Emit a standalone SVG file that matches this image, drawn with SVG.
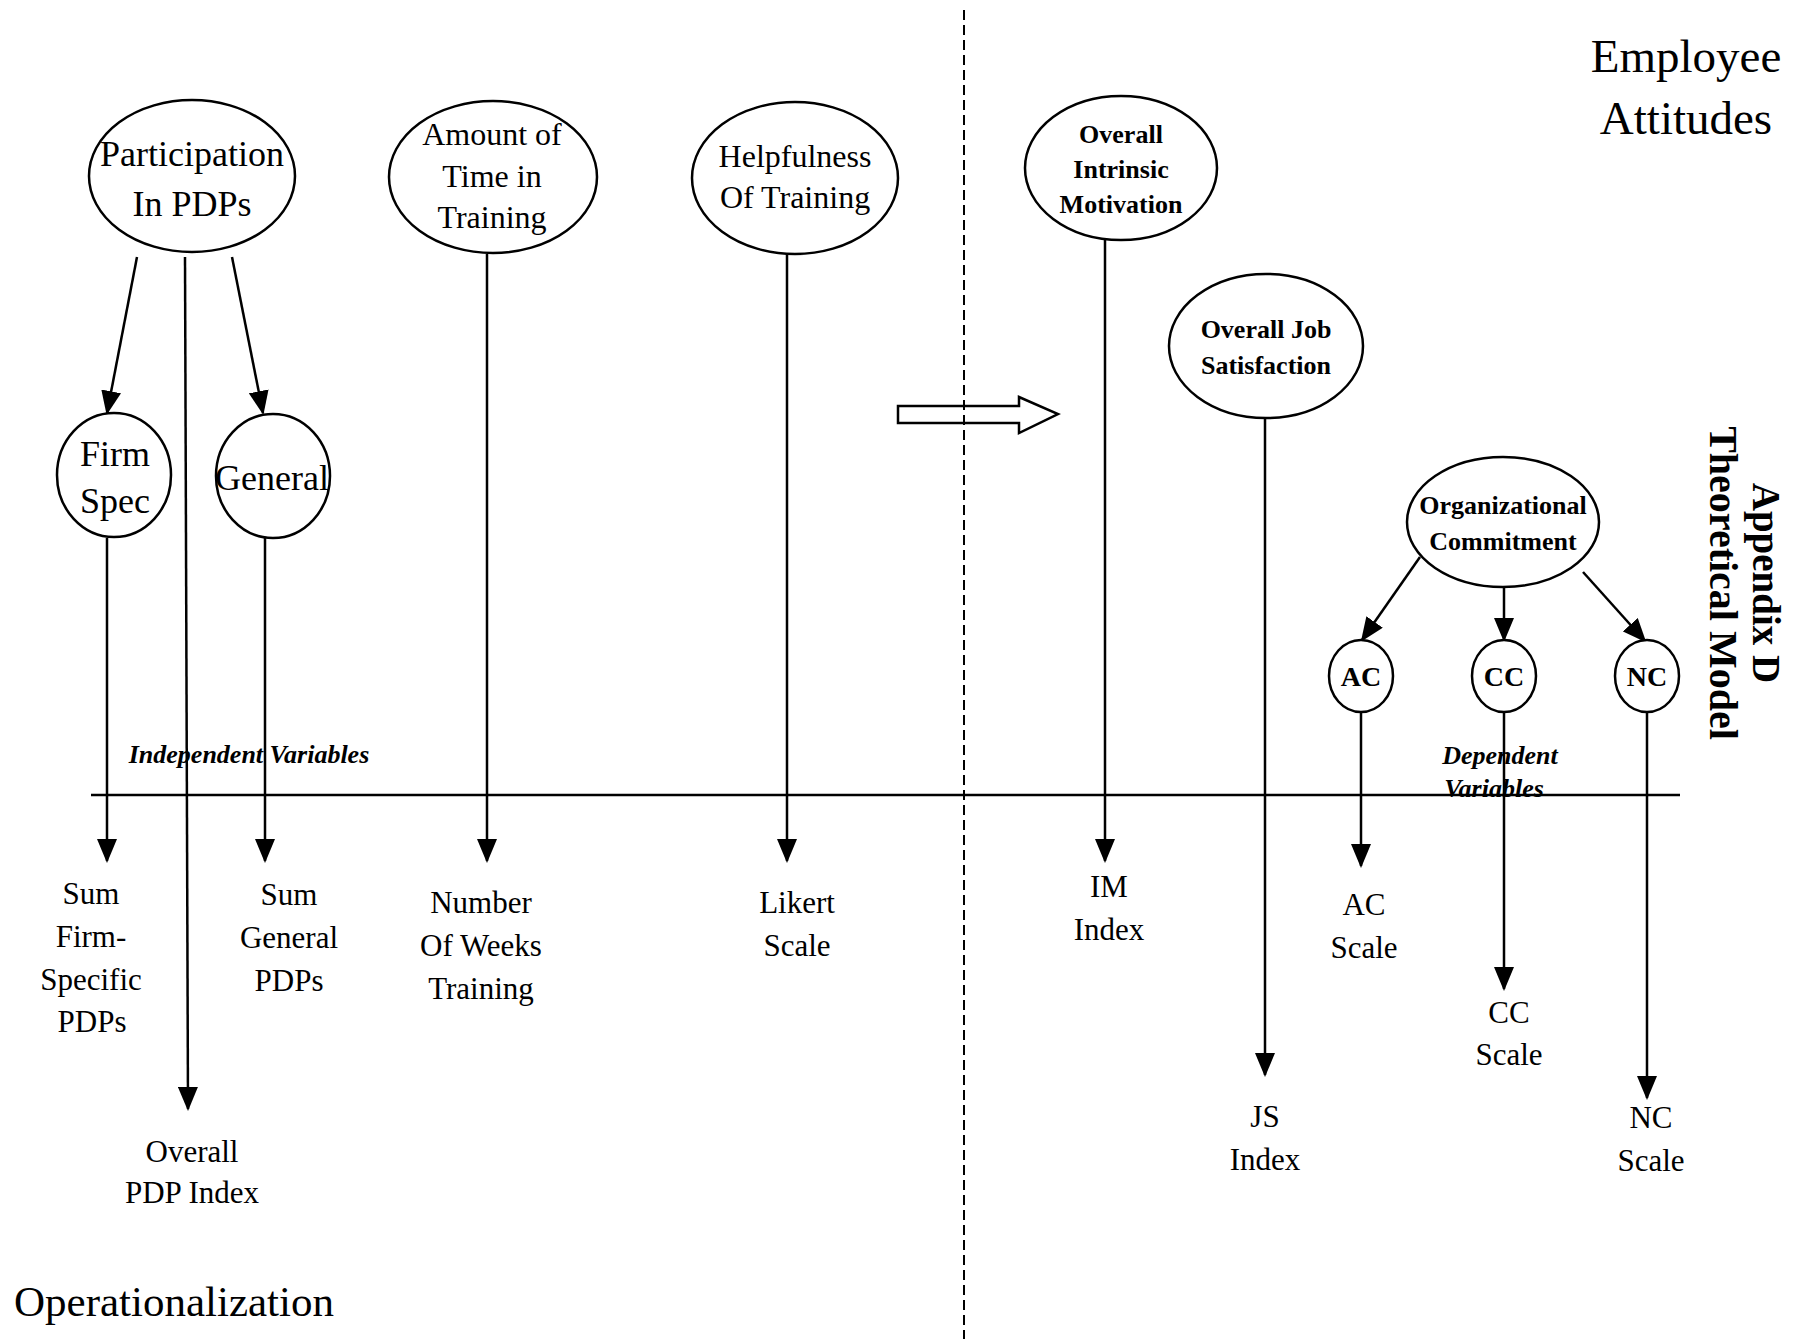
<svg xmlns="http://www.w3.org/2000/svg" width="1793" height="1339" viewBox="0 0 1793 1339">
<defs>
<style>
text{font-family:"Liberation Serif","Times New Roman",serif;fill:#000;text-anchor:middle}
.n{fill:#fff;stroke:#000;stroke-width:2.5}
.c line{stroke:#000;stroke-width:2.5;marker-end:url(#ah)}
.l36{font-size:36px}
.l32{font-size:32px}
.b26{font-size:26px;font-weight:bold}
.b28{font-size:28px;font-weight:bold}
.op{font-size:31px}
.bi{font-size:26px;font-weight:bold;font-style:italic}
</style>
<marker id="ah" markerUnits="userSpaceOnUse" markerWidth="24" markerHeight="20" viewBox="0 0 24 20" refX="22" refY="10" orient="auto">
<path d="M0,0 L24,10 L0,20 z" fill="#000"/>
</marker>
</defs>
<rect width="1793" height="1339" fill="#fff"/>

<g id="frame">
<line x1="91" y1="795" x2="1680" y2="795" stroke="#000" stroke-width="2.5"/>
</g>

<g id="shift-arrow">
<polygon points="898,406 1019,406 1019,397 1058,414 1019,433 1019,423 898,423" fill="#fff" stroke="#000" stroke-width="2.5"/>
</g>

<g id="divider">
<line x1="964" y1="10" x2="964" y2="1339" stroke="#000" stroke-width="2" stroke-dasharray="10 5"/>
</g>

<g id="labels">
<text x="1686" y="72" style="font-size:47px">Employee</text>
<text x="1686" y="134" style="font-size:47px">Attitudes</text>
<text x="14" y="1316" style="font-size:43px;text-anchor:start">Operationalization</text>
<text class="bi" x="249" y="763">Independent Variables</text>
<text class="bi" x="1500" y="764">Dependent</text>
<text class="bi" x="1494" y="797">Variables</text>
<text transform="translate(1753,583) rotate(90)" style="font-size:39px;font-weight:bold">Appendix D</text>
<text transform="translate(1710,583) rotate(90)" style="font-size:40px;font-weight:bold">Theoretical Model</text>
</g>

<g id="connectors" class="c">
<line x1="137" y1="257" x2="107" y2="413"/>
<line x1="185" y1="257" x2="188" y2="1109"/>
<line x1="232" y1="257" x2="263" y2="413"/>
<line x1="107" y1="538" x2="107" y2="861"/>
<line x1="265" y1="538" x2="265" y2="861"/>
<line x1="487" y1="254" x2="487" y2="861"/>
<line x1="787" y1="254" x2="787" y2="861"/>
<line x1="1105" y1="240" x2="1105" y2="861"/>
<line x1="1265" y1="417" x2="1265" y2="1075"/>
<line x1="1420" y1="557" x2="1362" y2="640"/>
<line x1="1504" y1="587" x2="1504" y2="640"/>
<line x1="1583" y1="572" x2="1645" y2="641"/>
<line x1="1361" y1="712" x2="1361" y2="866"/>
<line x1="1504" y1="712" x2="1504" y2="989"/>
<line x1="1647" y1="712" x2="1647" y2="1098"/>
</g>

<g id="participation">
<ellipse class="n" cx="192" cy="176" rx="103" ry="76"/>
<text class="l36" x="192" y="166">Participation</text>
<text class="l36" x="192" y="216">In PDPs</text>
</g>
<g id="firm-spec">
<ellipse class="n" cx="114" cy="475" rx="57" ry="62"/>
<text class="l36" x="115" y="466">Firm</text>
<text class="l36" x="115" y="513">Spec</text>
</g>
<g id="general">
<ellipse class="n" cx="273" cy="476" rx="57" ry="62"/>
<text class="l36" x="272" y="490">General</text>
</g>
<g id="amount">
<ellipse class="n" cx="493" cy="177" rx="104" ry="76"/>
<text class="l32" x="492" y="145">Amount of</text>
<text class="l32" x="492" y="187">Time in</text>
<text class="l32" x="492" y="228">Training</text>
</g>
<g id="helpfulness">
<ellipse class="n" cx="795" cy="178" rx="103" ry="76"/>
<text class="l32" x="795" y="167">Helpfulness</text>
<text class="l32" x="795" y="208">Of Training</text>
</g>
<g id="intrinsic">
<ellipse class="n" cx="1121" cy="168" rx="96" ry="72"/>
<text class="b26" x="1121" y="143">Overall</text>
<text class="b26" x="1121" y="178">Intrinsic</text>
<text class="b26" x="1121" y="213">Motivation</text>
</g>
<g id="job-satisfaction">
<ellipse class="n" cx="1266" cy="346" rx="97" ry="72"/>
<text class="b26" x="1266" y="338">Overall Job</text>
<text class="b26" x="1266" y="374">Satisfaction</text>
</g>
<g id="org-commitment">
<ellipse class="n" cx="1503" cy="522" rx="96" ry="65"/>
<text class="b26" x="1503" y="514">Organizational</text>
<text class="b26" x="1503" y="550">Commitment</text>
</g>
<g id="ac">
<ellipse class="n" cx="1361" cy="676" rx="32" ry="36"/>
<text class="b28" x="1361" y="686">AC</text>
</g>
<g id="cc">
<ellipse class="n" cx="1504" cy="676" rx="32" ry="36"/>
<text class="b28" x="1504" y="686">CC</text>
</g>
<g id="nc">
<ellipse class="n" cx="1647" cy="676" rx="32" ry="36"/>
<text class="b28" x="1647" y="686">NC</text>
</g>

<g id="sum-firm">
<text class="op" x="91" y="904">Sum</text>
<text class="op" x="91" y="947">Firm-</text>
<text class="op" x="91" y="990">Specific</text>
<text class="op" x="92" y="1032">PDPs</text>
</g>
<g id="sum-general">
<text class="op" x="289" y="905">Sum</text>
<text class="op" x="289" y="948">General</text>
<text class="op" x="289" y="991">PDPs</text>
</g>
<g id="weeks">
<text class="op" x="481" y="913">Number</text>
<text class="op" x="481" y="956">Of Weeks</text>
<text class="op" x="481" y="999">Training</text>
</g>
<g id="likert">
<text class="op" x="797" y="913">Likert</text>
<text class="op" x="797" y="956">Scale</text>
</g>
<g id="im-index">
<text class="op" x="1109" y="897">IM</text>
<text class="op" x="1109" y="940">Index</text>
</g>
<g id="ac-scale">
<text class="op" x="1364" y="915">AC</text>
<text class="op" x="1364" y="958">Scale</text>
</g>
<g id="cc-scale">
<text class="op" x="1509" y="1023">CC</text>
<text class="op" x="1509" y="1065">Scale</text>
</g>
<g id="js-index">
<text class="op" x="1265" y="1127">JS</text>
<text class="op" x="1265" y="1170">Index</text>
</g>
<g id="nc-scale">
<text class="op" x="1651" y="1128">NC</text>
<text class="op" x="1651" y="1171">Scale</text>
</g>
<g id="pdp-index">
<text class="op" x="192" y="1162">Overall</text>
<text class="op" x="192" y="1203">PDP Index</text>
</g>
</svg>
